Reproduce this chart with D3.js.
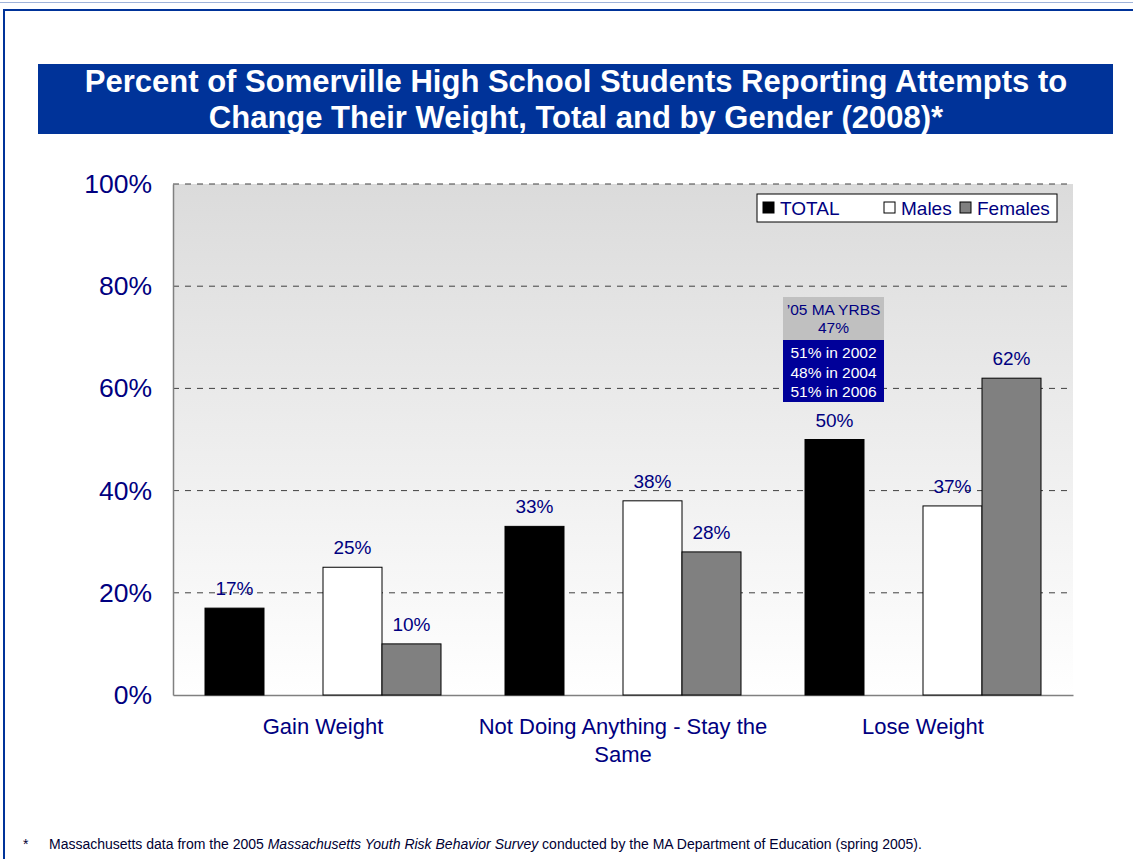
<!DOCTYPE html>
<html><head><meta charset="utf-8">
<script src="https://cdn.jsdelivr.net/npm/d3@7"></script>
<style>body{margin:0;background:#fff;}svg{display:block;font-family:Arial,"Liberation Sans",sans-serif;}</style>
</head><body>
<script>
const categories = ["Gain Weight", "Not Doing Anything - Stay the Same", "Lose Weight"];
const seriesNames = ["TOTAL", "Males", "Females"];
const totalValues = [17, 33, 50];
const maleValues = [25, 38, 37];
const femaleValues = [10, 28, 62];
const yTicks = [0, 20, 40, 60, 80, 100];
const titleLines = ["Percent of Somerville High School Students Reporting Attempts to", "Change Their Weight, Total and by Gender (2008)*"];
const noteTop = ["\u201905 MA YRBS", "47%"];
const noteBottom = ["51% in 2002", "48% in 2004", "51% in 2006"];

const W = 1133, H = 859;
const svg = d3.select("body").append("svg").attr("width", W).attr("height", H);

// page frame
svg.append("line").attr("x1", 0).attr("x2", W).attr("y1", 2.5).attr("y2", 2.5).attr("stroke", "#9fb3d9").attr("stroke-width", 1);
svg.append("line").attr("x1", 3).attr("x2", W).attr("y1", 10).attr("y2", 10).attr("stroke", "#003399").attr("stroke-width", 2);
svg.append("line").attr("x1", 4).attr("x2", 4).attr("y1", 9).attr("y2", H).attr("stroke", "#003399").attr("stroke-width", 2);

// title band
svg.append("rect").attr("x", 38).attr("y", 64).attr("width", 1075).attr("height", 70).attr("fill", "#003399");
svg.append("text").attr("text-anchor", "middle").attr("fill", "#fff").attr("font-weight", "bold").attr("font-size", 31)
  .selectAll("tspan").data(titleLines).join("tspan").attr("x", 576).attr("y", (d, i) => 92 + i * 36).text(d => d);

// plot
const plot = {x0: 173, x1: 1073, y0: 184, y1: 695};
const y = d3.scaleLinear().domain([0, 100]).range([plot.y1, plot.y0]);
const x0 = d3.scaleBand().domain(categories).range([plot.x0, plot.x1]).paddingInner(0).paddingOuter(0);
const slots = ["TOTAL", "_gap", "Males", "Females"];
const x1 = d3.scaleBand().domain(slots).range([32, x0.bandwidth() - 32]).padding(0);

const defs = svg.append("defs");
const grad = defs.append("linearGradient").attr("id", "bg").attr("x1", 0).attr("x2", 0).attr("y1", 0).attr("y2", 1);
grad.append("stop").attr("offset", "0%").attr("stop-color", "#dbdbdb");
grad.append("stop").attr("offset", "100%").attr("stop-color", "#ffffff");
svg.append("rect").attr("x", plot.x0).attr("y", plot.y0).attr("width", plot.x1 - plot.x0).attr("height", plot.y1 - plot.y0).attr("fill", "url(#bg)");

// gridlines
svg.append("g").selectAll("line").data(yTicks.filter(t => t > 0)).join("line")
  .attr("x1", plot.x0).attr("x2", plot.x1).attr("y1", d => y(d)).attr("y2", d => y(d))
  .attr("stroke", "#404040").attr("stroke-width", 1).attr("stroke-dasharray", "6,6");

// y axis
const yAxis = d3.axisLeft(y).tickValues(yTicks).tickFormat(d => d + "%").tickSize(0).tickPadding(21);
const gy = svg.append("g").attr("transform", `translate(${plot.x0},0)`).call(yAxis);
gy.select(".domain").attr("stroke", "#808080").attr("stroke-width", 1.5);
gy.selectAll("text").attr("font-size", 26.5).attr("fill", "#000080").attr("font-family", "Arial, 'Liberation Sans', sans-serif");

// x axis
const xAxis = d3.axisBottom(x0).tickSize(0).tickPadding(0);
const gx = svg.append("g").attr("transform", `translate(0,${plot.y1})`).call(xAxis);
gx.select(".domain").attr("stroke", "#808080").attr("stroke-width", 1.5);
gx.selectAll("text").remove();
const catLabels = [["Gain Weight"], ["Not Doing Anything - Stay the", "Same"], ["Lose Weight"]];
svg.append("g").selectAll("text").data(categories).join("text")
  .attr("text-anchor", "middle").attr("fill", "#000080").attr("font-size", 22)
  .each(function(d, i) {
    d3.select(this).selectAll("tspan").data(catLabels[i]).join("tspan")
      .attr("x", x0(d) + x0.bandwidth() / 2).attr("y", (t, j) => 734 + j * 28).text(t => t);
  });

// bars
const colors = {TOTAL: "#000000", Males: "#ffffff", Females: "#808080"};
const data = [];
categories.forEach((c, i) => {
  data.push({c, s: "TOTAL", v: totalValues[i]});
  data.push({c, s: "Males", v: maleValues[i]});
  data.push({c, s: "Females", v: femaleValues[i]});
});
svg.append("g").selectAll("rect").data(data).join("rect")
  .attr("x", d => x0(d.c) + x1(d.s)).attr("width", x1.bandwidth())
  .attr("y", d => y(d.v)).attr("height", d => y(0) - y(d.v))
  .attr("fill", d => colors[d.s]).attr("stroke", "#000").attr("stroke-width", 1);
svg.append("g").selectAll("text").data(data).join("text")
  .attr("x", d => x0(d.c) + x1(d.s) + x1.bandwidth() / 2).attr("y", d => y(d.v) - 13)
  .attr("text-anchor", "middle").attr("fill", "#000080").attr("font-size", 19).text(d => d.v + "%");

// legend
const lg = svg.append("g");
lg.append("rect").attr("x", 757).attr("y", 194).attr("width", 300).attr("height", 28).attr("fill", "#fff").attr("stroke", "#000").attr("stroke-width", 1);
const lx = [763, 884, 960];
seriesNames.forEach((s, i) => {
  lg.append("rect").attr("x", lx[i]).attr("y", 202).attr("width", 11).attr("height", 11).attr("fill", colors[s]).attr("stroke", "#000").attr("stroke-width", 1);
  lg.append("text").attr("x", lx[i] + 17).attr("y", 214.5).attr("font-size", 19).attr("fill", "#000080").text(s);
});

// annotation
const ax = 783, aw = 101;
svg.append("rect").attr("x", ax).attr("y", 297).attr("width", aw).attr("height", 43).attr("fill", "#c0c0c0");
svg.append("rect").attr("x", ax).attr("y", 340).attr("width", aw).attr("height", 62).attr("fill", "#000099");
svg.append("text").attr("text-anchor", "middle").attr("fill", "#000080").attr("font-size", 15.5)
  .selectAll("tspan").data(noteTop).join("tspan").attr("x", ax + aw / 2).attr("y", (d, i) => 315 + i * 18).text(d => d);
svg.append("text").attr("text-anchor", "middle").attr("fill", "#fff").attr("font-size", 15.5)
  .selectAll("tspan").data(noteBottom).join("tspan").attr("x", ax + aw / 2).attr("y", (d, i) => 358 + i * 19.5).text(d => d);

// footnote
svg.append("text").attr("x", 23).attr("y", 849).attr("font-size", 14).attr("fill", "#000033").text("*");
const fn = svg.append("text").attr("x", 49).attr("y", 849).attr("font-size", 14).attr("fill", "#000033");
fn.append("tspan").text("Massachusetts data from the 2005 ");
fn.append("tspan").attr("font-style", "italic").text("Massachusetts Youth Risk Behavior Survey");
fn.append("tspan").text(" conducted by the MA Department of Education (spring 2005).");
</script>
</body></html>
